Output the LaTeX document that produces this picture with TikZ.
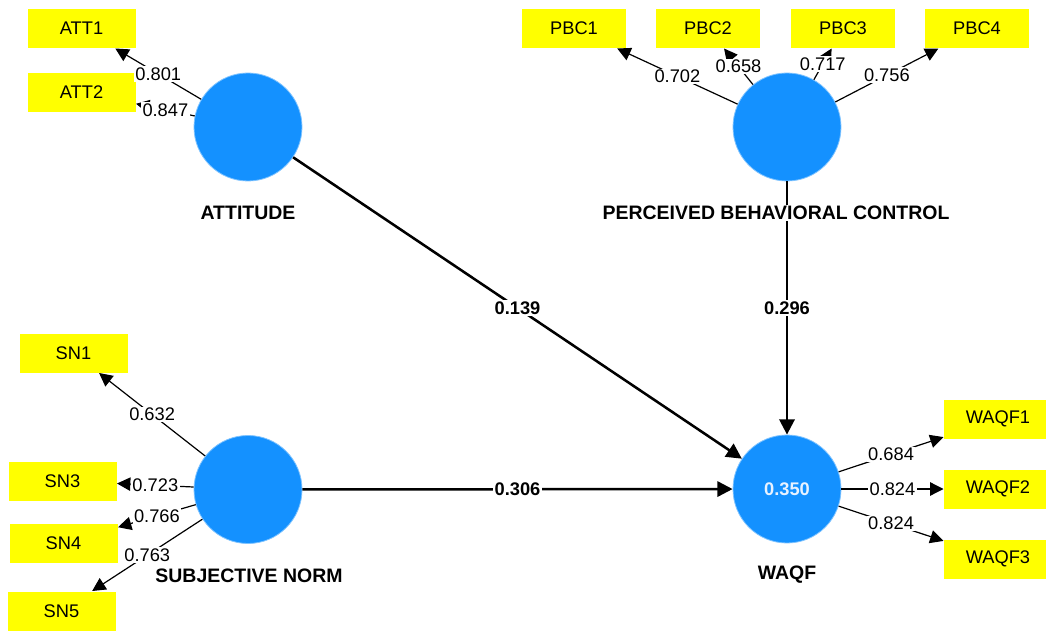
\documentclass[tikz,border=0pt]{standalone}
\usepackage{fontspec}
\setmainfont{Liberation Sans}
\usetikzlibrary{arrows.meta}

\definecolor{lvblue}{RGB}{20,145,255}
\definecolor{mvyellow}{RGB}{255,255,0}
\definecolor{rsqtext}{RGB}{232,242,255}

\tikzset{every picture/.style={line width=0.75pt}}
\tikzset{
  latent/.style={circle, fill=lvblue, draw=lvblue!55!white, line width=0.6pt, inner sep=0pt, minimum size=81pt},
  indicator/.style={rectangle, fill=mvyellow, inner sep=0pt, minimum width=81pt, minimum height=29.25pt, font=\fontsize{13.7}{16}\selectfont},
  lvname/.style={fill=white, inner sep=1pt, text depth=0pt, font=\bfseries\fontsize{14.6}{17}\selectfont},
  loading/.style={-{Triangle[length=10pt,width=10pt]}, line width=0.9pt},
  pathcoef/.style={-{Triangle[length=11.5pt,width=11.5pt]}, line width=1.9pt},
  lval/.style={midway, fill=white, inner sep=1pt, font=\fontsize{13.7}{16}\selectfont},
  pval/.style={midway, fill=white, inner sep=1.5pt, font=\bfseries\fontsize{13.7}{16}\selectfont}
}

\begin{document}
\begin{tikzpicture}[x=0.75pt,y=0.75pt,yscale=-1,xscale=1]
\useasboundingbox (0,0) rectangle (1046,631);

%Shape: Latent variables
\node[latent] (att) at (248,127) {};
\node[latent] (pbc) at (787,127) {};
\node[latent] (sn) at (248,489.5) {};
\node[latent, text=rsqtext, font=\bfseries\fontsize{13.7}{16}\selectfont] (waqf) at (787,489) {0.350};

%Shape: Indicators
\node[indicator] (att1) at (81.5,28.5) {ATT1};
\node[indicator] (att2) at (81.5,92.5) {ATT2};
\node[indicator, minimum width=78pt] (pbc1) at (574,28.5) {PBC1};
\node[indicator, minimum width=78pt] (pbc2) at (708,28.5) {PBC2};
\node[indicator, minimum width=78pt] (pbc3) at (843,28.5) {PBC3};
\node[indicator, minimum width=78pt] (pbc4) at (977,28.5) {PBC4};
\node[indicator] (sn1) at (73.5,353) {SN1};
\node[indicator] (sn3) at (62.5,481) {SN3};
\node[indicator] (sn4) at (63.5,543) {SN4};
\node[indicator] (sn5) at (61.5,611) {SN5};
\node[indicator] (waqf1) at (998,419) {WAQF1};
\node[indicator] (waqf2) at (998,489) {WAQF2};
\node[indicator] (waqf3) at (998,559) {WAQF3};

%Straight Lines: structural paths
\draw[pathcoef] (att) -- (waqf) node[pval] {0.139};
\draw[pathcoef] (pbc) -- (waqf) node[pval] {0.296};
\draw[pathcoef] (sn) -- (waqf) node[pval] {0.306};

%Text: construct names
\node[lvname] (attname) at (248,213) {ATTITUDE};
\node[lvname] (pbcname) at (776,213) {PERCEIVED BEHAVIORAL CONTROL};
\node[lvname] (snname) at (249,576) {SUBJECTIVE NORM};
\node[lvname] (waqfname) at (787,573) {WAQF};

%Straight Lines: outer loadings
\draw[loading] (att) -- (att1) node[lval] {0.801};
\draw[loading] (att) -- (att2) node[lval] {0.847};
\draw[loading] (pbc) -- (pbc1) node[lval] {0.702};
\draw[loading] (pbc) -- (pbc2) node[lval] {0.658};
\draw[loading] (pbc) -- (pbc3) node[lval] {0.717};
\draw[loading] (pbc) -- (pbc4) node[lval] {0.756};
\draw[loading] (sn) -- (sn1) node[lval] {0.632};
\draw[loading] (sn) -- (sn3) node[lval] {0.723};
\draw[loading] (sn) -- (sn4) node[lval] {0.766};
\draw[loading] (sn) -- (sn5) node[lval] {0.763};
\draw[loading] (waqf) -- (waqf1) node[lval] {0.684};
\draw[loading] (waqf) -- (waqf2) node[lval] {0.824};
\draw[loading] (waqf) -- (waqf3) node[lval] {0.824};

\end{tikzpicture}
\end{document}
